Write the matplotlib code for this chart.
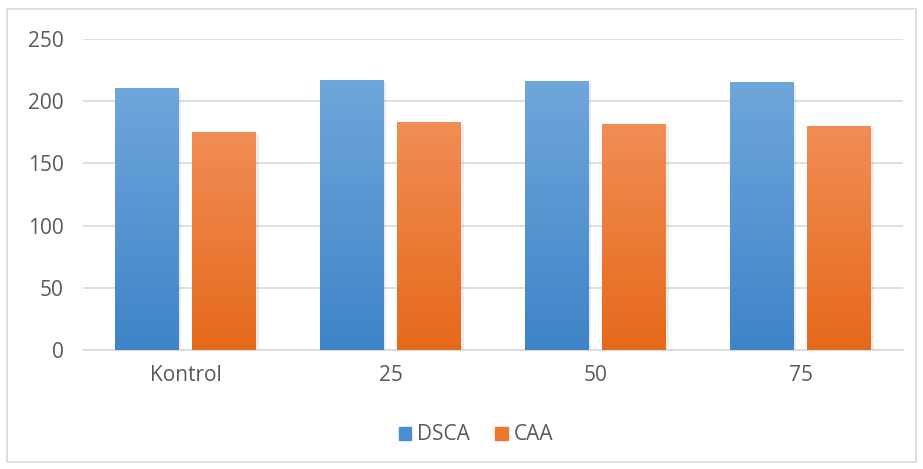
import numpy as np
import matplotlib
matplotlib.use("Agg")
import matplotlib.pyplot as plt
from matplotlib.colors import LinearSegmentedColormap
from matplotlib.patches import Rectangle
import matplotlib.patheffects as pe

categories = ["Kontrol", "25", "50", "75"]
dsca = [210, 217, 216, 215]
caa = [175, 182.5, 181.5, 180]
series_names = ["DSCA", "CAA"]
yticks = [0, 50, 100, 150, 200, 250]

plt.rcParams['font.family'] = ['Open Sans', 'DejaVu Sans']
text_color = "#595959"

fig = plt.figure(figsize=(9.23, 4.69), dpi=100)
ax = fig.add_axes([83/923, 1-350/469, 820/923, 311/469])

x = np.arange(len(categories))
w = 0.312
off = 0.19
blue_cmap = LinearSegmentedColormap.from_list("b", ["#6FA6DB", "#3E84C8"])
orange_cmap = LinearSegmentedColormap.from_list("o", ["#F18D55", "#E5691A"])

shadow = [pe.SimplePatchShadow(offset=(1.5, -1.5), alpha=0.15, shadow_rgbFace="#808080"), pe.Normal()]
b1 = ax.bar(x - off, dsca, w, color="#5B9BD5", zorder=2, path_effects=shadow)
b2 = ax.bar(x + off, caa, w, color="#ED7D31", zorder=2, path_effects=shadow)

grad = np.linspace(0, 1, 256).reshape(-1, 1)
for bars, cmap in ((b1, blue_cmap), (b2, orange_cmap)):
    for r in bars:
        x0, y0 = r.get_x(), r.get_y()
        ww, hh = r.get_width(), r.get_height()
        ax.imshow(grad, cmap=cmap, aspect="auto",
                  extent=(x0, x0 + ww, y0, y0 + hh), origin="upper", zorder=3)

ax.set_xlim(-0.5, len(categories) - 0.5)
ax.set_ylim(0, 250)
ax.set_yticks(yticks)
ax.set_xticks(x)
ax.set_xticklabels(categories)
ax.yaxis.grid(True, color="#D9D9D9", linewidth=1.2, zorder=0)
ax.set_axisbelow(True)
for s in ["top", "right", "left"]:
    ax.spines[s].set_visible(False)
ax.spines["bottom"].set_color("#D9D9D9")
ax.spines["bottom"].set_linewidth(1.2)
ax.tick_params(axis="both", length=0, colors=text_color, labelsize=15)
ax.tick_params(axis="y", pad=14)
ax.tick_params(axis="x", pad=11)

handles = [Rectangle((0, 0), 1, 1, color="#4A8FD2"), Rectangle((0, 0), 1, 1, color="#EE7730")]
fig.legend(handles, series_names, loc="center", bbox_to_anchor=(476/923, 1-435/469),
           ncol=2, frameon=False, fontsize=15, labelcolor=text_color,
           handlelength=0.6, handleheight=0.6, handletextpad=0.3, columnspacing=1.2)

fig.add_artist(Rectangle((7/923, 1-462/469), 909/923, 453/469, transform=fig.transFigure,
                         fill=False, edgecolor="#D9D9D9", linewidth=1.2))

fig.savefig("out.png", dpi=100)
